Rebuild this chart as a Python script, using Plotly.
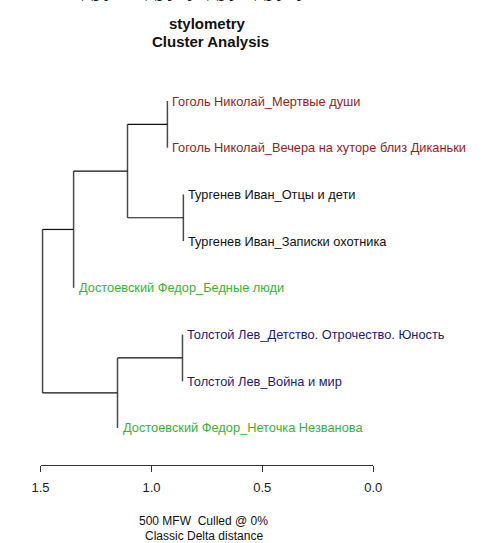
import plotly.graph_objects as go

# Leaves in plotting order (top to bottom)
labels = [
    "Гоголь Николай_Мертвые души",
    "Гоголь Николай_Вечера на хуторе близ Диканьки",
    "Тургенев Иван_Отцы и дети",
    "Тургенев Иван_Записки охотника",
    "Достоевский Федор_Бедные люди",
    "Толстой Лев_Детство. Отрочество. Юность",
    "Толстой Лев_Война и мир",
    "Достоевский Федор_Неточка Незванова",
]
label_colors = ["#9a1c1c", "#9a1c1c", "#111111", "#111111",
                "#36b536", "#1c1c78", "#1c1c78", "#36b536"]
# height at which each leaf hangs (its parent merge height)
leaf_heights = [0.928, 0.928, 0.856, 0.856, 1.351, 0.860, 0.860, 1.153]

# merges: (left child, right child, height)
merges = {
    "m1": (0, 1, 0.928),
    "m2": (2, 3, 0.856),
    "m3": ("m1", "m2", 1.108),
    "m4": ("m3", 4, 1.351),
    "m5": (5, 6, 0.860),
    "m6": ("m5", 7, 1.153),
    "m7": ("m4", "m6", 1.491),
}
tick_vals = [1.5, 1.0, 0.5, 0.0]
tick_text = ["1.5", "1.0", "0.5", "0.0"]

def pos(node):
    if isinstance(node, int):
        return float(node), leaf_heights[node]
    a, b, h = merges[node]
    ya, _ = pos(a)
    yb, _ = pos(b)
    return (ya + yb) / 2, h

vx, vy, hx, hy = [], [], [], []
for name, (a, b, h) in merges.items():
    ya, ha = pos(a)
    yb, hb = pos(b)
    vx += [h, h, None]
    vy += [ya, yb, None]
    for child, yc, hc in ((a, ya, ha), (b, yb, hb)):
        if not isinstance(child, int):
            hx += [h, hc, None]
            hy += [yc, yc, None]

W, H = 485, 543
# horizontal calibration (rendered x = 8.4 + 0.964 * layout x observed)
cs, co = 0.964, 8.4
def cx(px):
    return (px - co) / cs

px_per_unit = 222.0 / cs
x0_px = cx(373.0)
xr = [x0_px / px_per_unit, (x0_px - W) / px_per_unit]
leaf_top_px, leaf_step_px = 101.0, 46.71
yr = [(H - leaf_top_px) / leaf_step_px, -leaf_top_px / leaf_step_px]

FONT = "Liberation Sans, Arial, sans-serif"
fig = go.Figure()
fig.add_trace(go.Scatter(x=vx, y=vy, mode="lines",
                         line=dict(color="#4a4a4a", width=1.5),
                         hoverinfo="skip", showlegend=False))
fig.add_trace(go.Scatter(x=hx, y=hy, mode="lines",
                         line=dict(color="#111111", width=1.2),
                         hoverinfo="skip", showlegend=False))
for i, (lab, col, h) in enumerate(zip(labels, label_colors, leaf_heights)):
    fig.add_annotation(x=h, y=i, xref="x", yref="y", text=lab, showarrow=False,
                       xanchor="left", yanchor="middle", xshift=3,
                       font=dict(family=FONT, size=12.8, color=col))
fig.add_trace(go.Scatter(x=tick_vals, y=[0] * 4, xaxis="x2", yaxis="y2",
                         mode="markers", marker=dict(opacity=0),
                         hoverinfo="skip", showlegend=False))

ax_y_px = 465
fig.update_layout(
    width=W, height=H,
    margin=dict(l=0, r=0, t=0, b=0),
    paper_bgcolor="white", plot_bgcolor="rgba(0,0,0,0)",
    xaxis=dict(range=xr, visible=False, domain=[0, 1]),
    yaxis=dict(range=yr, visible=False, domain=[0, 1]),
    xaxis2=dict(range=[1.5, 0.0], domain=[cx(40) / W, cx(373) / W], anchor="free",
                position=1 - ax_y_px / H, showline=True, linecolor="#333",
                linewidth=1, ticks="outside", ticklen=6, tickcolor="#333",
                tickvals=tick_vals, ticktext=tick_text, showgrid=False,
                zeroline=False, side="bottom", ticklabelstandoff=4,
                tickfont=dict(family=FONT, size=13, color="#222")),
    yaxis2=dict(domain=[0, 1 - ax_y_px / H], anchor="x2", visible=False, range=[0, 1]),
    font=dict(family=FONT),
)

def ann(text, x, y, size, bold=False, family=FONT, color="#111"):
    fig.add_annotation(text=f"<b>{text}</b>" if bold else text,
                       x=x / W, y=1 - y / H, xref="paper", yref="paper",
                       showarrow=False, xanchor="center", yanchor="middle",
                       font=dict(size=size, family=family, color=color))

ann("stylometry", 206, 23, 15, bold=True)
ann("Cluster Analysis", 209, 41, 15, bold=True)
ann("500 MFW  Culled @ 0%", 202, 521, 12)
ann("Classic Delta distance", 202, 536, 12)
fig.add_annotation(text="друг к другу, друг другу,", x=195 / W, y=1 - 3 / H,
                   xref="paper", yref="paper", showarrow=False,
                   xanchor="center", yanchor="bottom",
                   font=dict(size=22, family="Liberation Serif, serif", color="#111"))

fig.write_html("out.html", config={"displayModeBar": False},
               post_script="document.body.style.margin='0';document.body.style.overflow='hidden';")
